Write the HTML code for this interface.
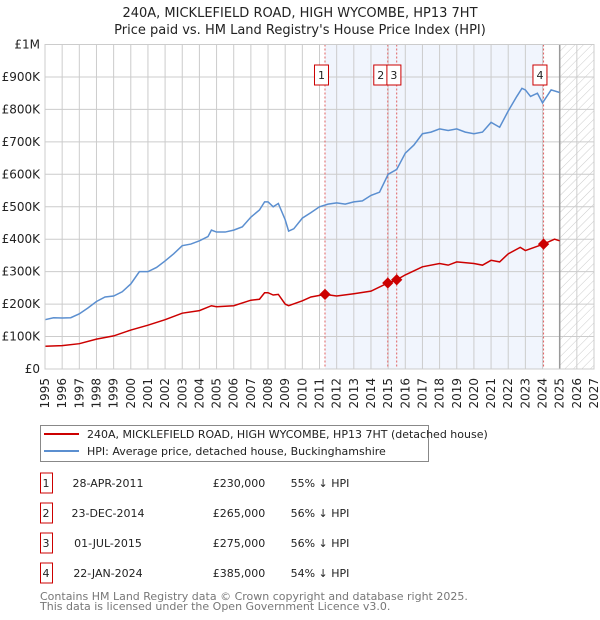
<!DOCTYPE html>
<html><head><meta charset="utf-8">
<style>
body{margin:0;background:#fff;font-family:"Liberation Sans","DejaVu Sans",sans-serif;}
#wrap{position:relative;width:600px;height:620px;overflow:hidden;}
</style></head>
<body><div id="wrap">
<svg id="chart" width="600" height="620" xmlns="http://www.w3.org/2000/svg" font-family="DejaVu Sans, Liberation Sans, sans-serif">
<defs>
<pattern id="hatch" width="6" height="6" patternUnits="userSpaceOnUse" patternTransform="rotate(45)">
<rect width="6" height="6" fill="#fff"/><line x1="0" y1="0" x2="0" y2="6" stroke="#ccc" stroke-width="1"/>
</pattern>
</defs>
<text x="300" y="17" text-anchor="middle" font-size="13" fill="#222">240A, MICKLEFIELD ROAD, HIGH WYCOMBE, HP13 7HT</text>
<text x="300" y="34" text-anchor="middle" font-size="13" fill="#222">Price paid vs. HM Land Registry's House Price Index (HPI)</text>
<g id="plot"></g>
<g>
<rect x="40.5" y="425.5" width="388" height="36" fill="#fff" stroke="#888"/>
<line x1="44" y1="434" x2="79" y2="434" stroke="#cc0000" stroke-width="2"/>
<text x="87" y="438" font-size="11" fill="#222">240A, MICKLEFIELD ROAD, HIGH WYCOMBE, HP13 7HT (detached house)</text>
<line x1="44" y1="451" x2="79" y2="451" stroke="#5b8fd0" stroke-width="2"/>
<text x="87" y="455" font-size="11" fill="#222">HPI: Average price, detached house, Buckinghamshire</text>
</g>
<g id="table" font-size="11" fill="#222"></g>
<text x="40" y="600" font-size="11" fill="#777">Contains HM Land Registry data © Crown copyright and database right 2025.</text>
<text x="40" y="610" font-size="11" fill="#777">This data is licensed under the Open Government Licence v3.0.</text>
</svg>
</div>
<script>
const hpiYears=[1995,1995.5,1996,1996.5,1997,1997.5,1998,1998.5,1999,1999.5,2000,2000.5,2001,2001.5,2002,2002.5,2003,2003.5,2004,2004.5,2004.7,2005,2005.5,2006,2006.5,2007,2007.5,2007.8,2008,2008.3,2008.6,2009,2009.2,2009.5,2010,2010.5,2011,2011.5,2012,2012.5,2013,2013.5,2014,2014.5,2015,2015.5,2016,2016.5,2017,2017.5,2018,2018.5,2019,2019.5,2020,2020.5,2021,2021.5,2022,2022.5,2022.8,2023,2023.3,2023.7,2024,2024.5,2025];
const hpiValues=[152,158,157,158,170,188,208,222,225,238,262,300,300,313,333,355,380,385,395,408,428,422,422,428,438,468,490,515,515,500,510,460,425,432,465,482,500,508,512,508,515,518,535,545,600,615,665,690,725,730,740,735,740,730,725,730,760,745,795,840,865,860,840,850,820,860,852];
const ppYears=[1995,1996,1997,1998,1999,2000,2001,2002,2003,2004,2004.7,2005,2006,2007,2007.5,2007.8,2008,2008.3,2008.6,2009,2009.2,2010,2010.5,2011.32,2012,2013,2014,2014.98,2015.5,2016,2017,2018,2018.5,2019,2020,2020.5,2021,2021.5,2022,2022.7,2023,2024.06,2024.7,2025];
const ppValues=[70,72,78,92,102,120,135,152,172,180,195,192,195,212,215,235,235,228,230,200,195,210,222,230,225,232,240,265,275,290,315,325,320,330,325,320,335,330,355,375,365,385,400,395];
const saleLabels=["1","2","3","4"];
const saleYears=[2011.32,2014.98,2015.5,2024.06];
const salePrices=[230,265,275,385];
const saleDates=["28-APR-2011","23-DEC-2014","01-JUL-2015","22-JAN-2024"];
const salePriceText=["£230,000","£265,000","£275,000","£385,000"];
const saleHpiText=["55% ↓ HPI","56% ↓ HPI","56% ↓ HPI","54% ↓ HPI"];
const yTicks=[0,100,200,300,400,500,600,700,800,900,1000];
const yTickLabels=["£0","£100K","£200K","£300K","£400K","£500K","£600K","£700K","£800K","£900K","£1M"];
const xTicks=[1995,1996,1997,1998,1999,2000,2001,2002,2003,2004,2005,2006,2007,2008,2009,2010,2011,2012,2013,2014,2015,2016,2017,2018,2019,2020,2021,2022,2023,2024,2025,2026,2027];

const X0=45,X1=594,Y0=369,Y1=44.5,xMin=1995,xMax=2027,vMax=1000;
const x=v=>X0+(v-xMin)/(xMax-xMin)*(X1-X0);
const y=v=>Y0-v/vMax*(Y0-Y1);
const NS="http://www.w3.org/2000/svg";
const plot=document.getElementById('plot');
function mk(tag,attrs,parent){const e=document.createElementNS(NS,tag);for(const k in attrs)e.setAttribute(k,attrs[k]);(parent||plot).appendChild(e);return e;}

let r=mk('rect',{x:x(saleYears[0]),y:Y1,width:x(saleYears[3])-x(saleYears[0]),height:Y0-Y1,fill:'#eef3fc',opacity:0.8});


r=mk('rect',{x:x(2025),y:Y1,width:X1-x(2025),height:Y0-Y1,fill:'url(#hatch)'});



xTicks.forEach(t=>{
  const l=mk('line',{x1:x(t),x2:x(t),y1:Y1,y2:Y0,stroke:'#ccc','stroke-width':1});
  
  
  const tx=mk('text',{x:0,y:0,transform:`translate(${x(t)+4},378) rotate(-90)`,'text-anchor':'end','font-size':12,fill:'#222'});
  tx.textContent=t;
  
  
});
yTicks.forEach((t,i)=>{
  const l=mk('line',{x1:X0,x2:X1,y1:y(t),y2:y(t),stroke:'#ccc','stroke-width':1});
  
  
  const tx=mk('text',{x:40,y:y(t)+4,'text-anchor':'end','font-size':12,fill:'#222'});
  tx.textContent=yTickLabels[i];
  
  
});
const vl=mk('line',{x1:x(2025),x2:x(2025),y1:Y1,y2:Y0,stroke:'#999','stroke-width':1.5});



saleYears.forEach((s,i)=>{
  const l=mk('line',{x1:x(s),x2:x(s),y1:Y1,y2:Y0,stroke:'#e06060','stroke-width':1,'stroke-dasharray':'2,2'});
  
  
});
const hp=mk('polyline',{points:hpiYears.map((v,i)=>x(v)+','+y(hpiValues[i])).join(' '),fill:'none',stroke:'#5b8fd0','stroke-width':1.5});


const pp=mk('polyline',{points:ppYears.map((v,i)=>x(v)+','+y(ppValues[i])).join(' '),fill:'none',stroke:'#cc0000','stroke-width':1.5});


const boxOff=[-3.5,-7,-2.8,-3.6];
saleYears.forEach((s,i)=>{
  const d=mk('rect',{x:x(s)-4,y:y(salePrices[i])-4,width:8,height:8,fill:'#cc0000',transform:`rotate(45 ${x(s)} ${y(salePrices[i])})`});
  
  
  const bx=x(s)+boxOff[i]-7;
  const b=mk('rect',{x:bx,y:65,width:14,height:20,fill:'#fff',stroke:'#cc0000','stroke-width':1});
  
  
  const t=mk('text',{x:bx+7,y:79,'text-anchor':'middle','font-size':11,fill:'#222'});
  t.textContent=saleLabels[i];
  
  
});
const rb=mk('rect',{x:X0,y:Y1,width:X1-X0,height:Y0-Y1,fill:'none',stroke:'#ccc'});



const tb=document.getElementById('table');
saleLabels.forEach((s,i)=>{
  const cy=483+i*30;
  const b=mk('rect',{x:40.5,y:cy-10,width:12,height:20,fill:'#fff',stroke:'#cc0000'},tb);
  
  
  const cells=[[46,s,'middle'],[108,saleDates[i],'middle'],[239,salePriceText[i],'middle'],[320,saleHpiText[i],'middle']];
  cells.forEach(c=>{
    const t=mk('text',{x:c[0],y:cy+4,'text-anchor':c[2]},tb);
    t.textContent=c[1];
    
    
  });
});
</script>
</body></html>
